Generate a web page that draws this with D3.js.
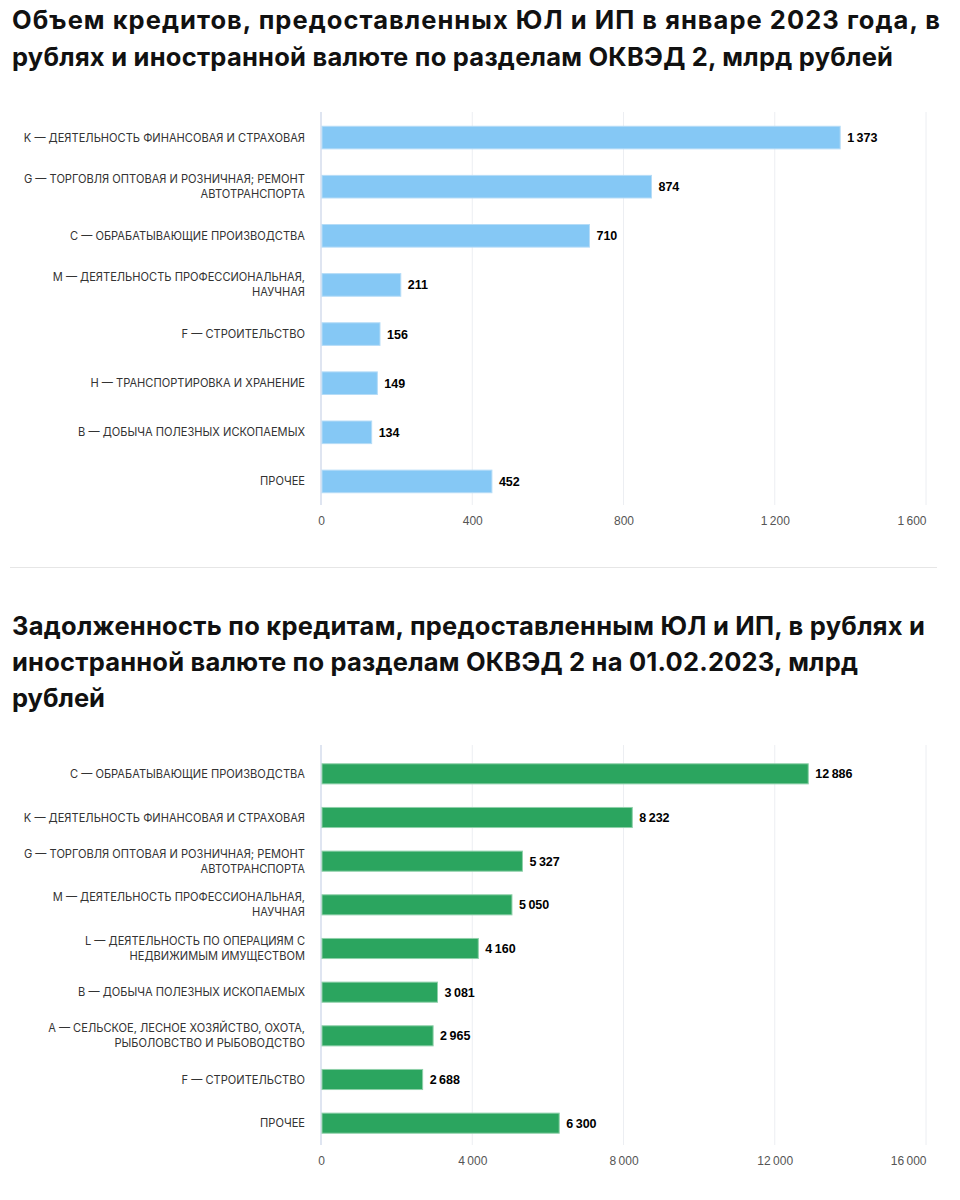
<!DOCTYPE html>
<html><head><meta charset="utf-8">
<script src="https://cdn.jsdelivr.net/npm/d3@7/dist/d3.min.js"></script>
<style>
body{margin:0;background:#fff;}
svg{display:block;}
</style></head>
<body>
<svg id="c" width="960" height="1200"></svg>
<script>
// ---- Chart 1 data ----
const title1 = ["Объем кредитов, предоставленных ЮЛ и ИП в январе 2023 года, в", "рублях и иностранной валюте по разделам ОКВЭД 2, млрд рублей"];
const cats1 = [
  ["K — ДЕЯТЕЛЬНОСТЬ ФИНАНСОВАЯ И СТРАХОВАЯ"],
  ["G — ТОРГОВЛЯ ОПТОВАЯ И РОЗНИЧНАЯ; РЕМОНТ", "АВТОТРАНСПОРТА"],
  ["C — ОБРАБАТЫВАЮЩИЕ ПРОИЗВОДСТВА"],
  ["M — ДЕЯТЕЛЬНОСТЬ ПРОФЕССИОНАЛЬНАЯ,", "НАУЧНАЯ"],
  ["F — СТРОИТЕЛЬСТВО"],
  ["H — ТРАНСПОРТИРОВКА И ХРАНЕНИЕ"],
  ["B — ДОБЫЧА ПОЛЕЗНЫХ ИСКОПАЕМЫХ"],
  ["ПРОЧЕЕ"]
];
const values1 = [1373, 874, 710, 211, 156, 149, 134, 452];
const ticks1 = [0, 400, 800, 1200, 1600];

// ---- Chart 2 data ----
const title2 = ["Задолженность по кредитам, предоставленным ЮЛ и ИП, в рублях и", "иностранной валюте по разделам ОКВЭД 2 на 01.02.2023, млрд", "рублей"];
const cats2 = [
  ["C — ОБРАБАТЫВАЮЩИЕ ПРОИЗВОДСТВА"],
  ["K — ДЕЯТЕЛЬНОСТЬ ФИНАНСОВАЯ И СТРАХОВАЯ"],
  ["G — ТОРГОВЛЯ ОПТОВАЯ И РОЗНИЧНАЯ; РЕМОНТ", "АВТОТРАНСПОРТА"],
  ["M — ДЕЯТЕЛЬНОСТЬ ПРОФЕССИОНАЛЬНАЯ,", "НАУЧНАЯ"],
  ["L — ДЕЯТЕЛЬНОСТЬ ПО ОПЕРАЦИЯМ С", "НЕДВИЖИМЫМ ИМУЩЕСТВОМ"],
  ["B — ДОБЫЧА ПОЛЕЗНЫХ ИСКОПАЕМЫХ"],
  ["A — СЕЛЬСКОЕ, ЛЕСНОЕ ХОЗЯЙСТВО, ОХОТА,", "РЫБОЛОВСТВО И РЫБОВОДСТВО"],
  ["F — СТРОИТЕЛЬСТВО"],
  ["ПРОЧЕЕ"]
];
const values2 = [12886, 8232, 5327, 5050, 4160, 3081, 2965, 2688, 6300];
const ticks2 = [0, 4000, 8000, 12000, 16000];

const svg = d3.select("#c");
const fmt = v => d3.format(",")(v).replace(/,/g, "\u2009");

function drawTitle(lines, widths, y0, lh) {
  const t = svg.append("text")
    .attr("font-family", "Inter, 'Noto Sans', sans-serif")
    .attr("font-weight", 700).attr("font-size", 25.5).attr("fill", "#111");
  lines.forEach((l, i) => t.append("tspan").attr("x", 12).attr("y", y0 + i * lh)
    .attr("textLength", widths[i]).attr("lengthAdjust", "spacing").text(l));
}

function drawChart(cfg) {
  const x = d3.scaleLinear().domain([0, cfg.max]).range([321, 926]);
  const idx = d3.range(cfg.values.length);
  const y = d3.scaleBand().domain(idx).range([cfg.top, cfg.bottom]).paddingInner(cfg.pad).paddingOuter(cfg.pad / 2);
  const g = svg.append("g");
  // grid
  g.selectAll("line.grid").data(cfg.ticks).join("line")
    .attr("x1", d => x(d)).attr("x2", d => x(d))
    .attr("y1", cfg.gridTop).attr("y2", cfg.gridBottom)
    .attr("stroke", d => d === 0 ? "#dfe5f1" : "#eceef2").attr("stroke-width", d => d === 0 ? 2 : 1);
  // axis tick labels
  const ax = d3.axisBottom(x).tickValues(cfg.ticks).tickFormat(fmt).tickSize(0).tickPadding(0);
  const axg = g.append("g").attr("transform", `translate(0,${cfg.tickY})`).call(ax);
  axg.select(".domain").remove();
  axg.selectAll("text").attr("font-family", "'Liberation Sans', Arial, sans-serif")
    .attr("font-size", 12).attr("fill", "#555").attr("dy", 0)
    .attr("text-anchor", (d, i) => i === cfg.ticks.length - 1 ? "end" : "middle");
  // bars
  g.selectAll("rect.bar").data(idx).join("rect")
    .attr("x", x(0) + 1).attr("y", d => y(d))
    .attr("width", d => x(cfg.values[d]) - x(0) - 1).attr("height", y.bandwidth())
    .attr("fill", cfg.color).attr("stroke", cfg.stroke).attr("stroke-width", 1);
  // value labels
  g.selectAll("text.val").data(idx).join("text")
    .attr("x", d => x(cfg.values[d]) + 7).attr("y", d => y(d) + y.bandwidth() / 2 + 4.5)
    .attr("font-family", "'Liberation Sans', Arial, sans-serif").attr("font-weight", 700)
    .attr("font-size", 12.5).attr("fill", "#000")
    .text(d => fmt(cfg.values[d]));
  // category labels
  g.selectAll("text.cat").data(idx).join("text")
    .attr("text-anchor", "end")
    .attr("font-family", "Inter, 'Noto Sans', sans-serif").attr("font-size", 11.1).attr("fill", "#333")
    .each(function (d) {
      const lines = cfg.cats[d];
      const cy = y(d) + y.bandwidth() / 2;
      const lh = 15;
      const start = cy - (lines.length - 1) * lh / 2 + 4;
      lines.forEach((l, i) => d3.select(this).append("tspan").attr("x", 305).attr("y", start + i * lh).text(l));
    });
}

drawTitle(title1, [928, 881], 29, 37);
drawChart({cats: cats1, values: values1, ticks: ticks1, max: 1600,
  top: 113, bottom: 506, pad: 0.54, gridTop: 112, gridBottom: 505, tickY: 525,
  color: "#85c8f5", stroke: "#b5dcf7"});

svg.append("line").attr("x1", 10).attr("x2", 937).attr("y1", 567.5).attr("y2", 567.5).attr("stroke", "#e6e6e6");

drawTitle(title2, [913, 846, 93], 635, 36);
drawChart({cats: cats2, values: values2, ticks: ticks2, max: 16000,
  top: 752, bottom: 1145, pad: 0.54, gridTop: 745, gridBottom: 1145, tickY: 1165,
  color: "#2ba55f", stroke: "#8fd0aa"});
</script>
</body></html>
